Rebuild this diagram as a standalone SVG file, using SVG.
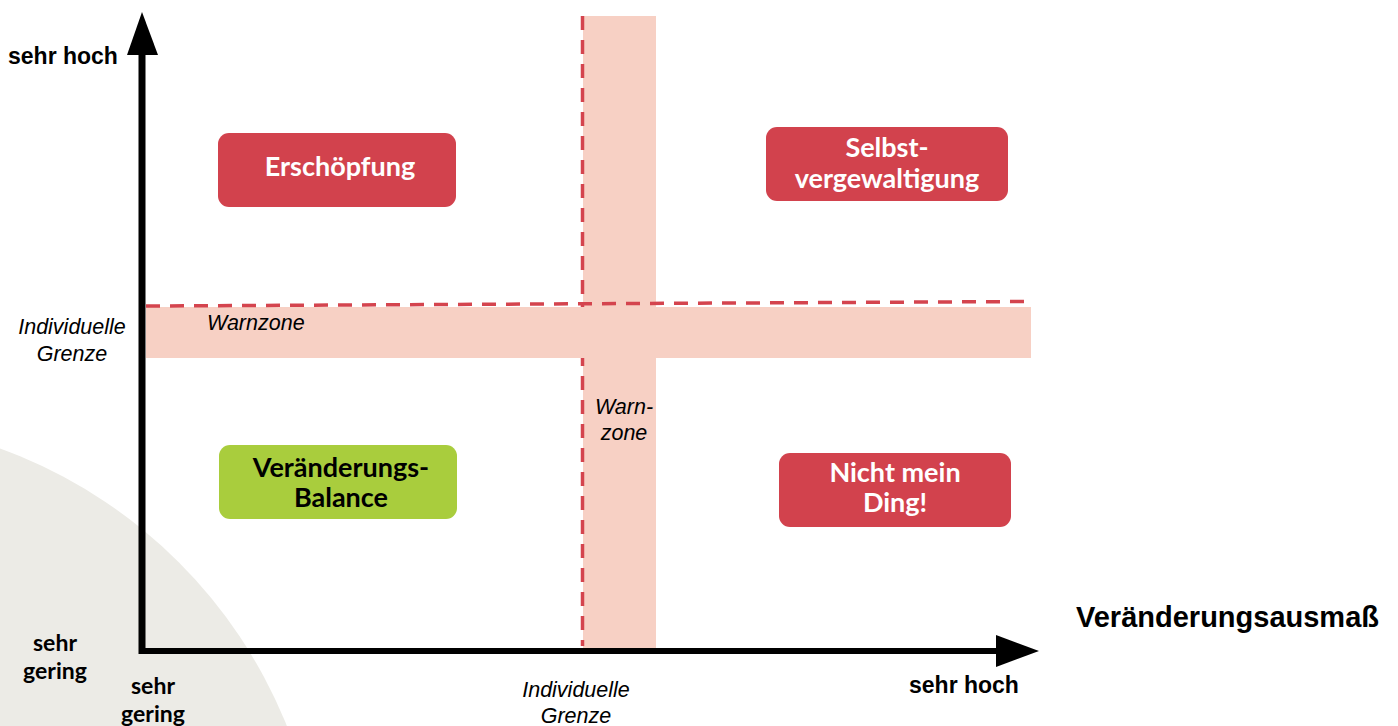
<svg xmlns="http://www.w3.org/2000/svg" width="1398" height="726" viewBox="0 0 1398 726">
<style>
.lbl{font-family:"Liberation Sans",Arial,sans-serif;font-weight:bold;fill:#000}
.it{font-family:"Liberation Sans",Arial,sans-serif;font-style:italic;font-size:21.5px;fill:#000}
.node{font-family:Lato,"Noto Sans",sans-serif;font-weight:bold;font-size:27px;text-anchor:middle}
.band{fill:#F7D0C4}
.dash{stroke:#D4444E;stroke-width:3.5;fill:none;stroke-dasharray:14 10}
.red{fill:#D2424D}
.green{fill:#A9CD3D}
.gl{font-family:Lato,"Noto Sans",sans-serif;font-weight:bold;font-size:23px;text-anchor:middle;fill:#000}
</style>
<rect width="1398" height="726" fill="#fff"/>
<circle cx="-167" cy="908" r="489" fill="#ECEBE6"/>

<g id="zones">
<rect class="band" x="583" y="16" width="73" height="632"/>
<line class="dash" x1="582.5" y1="16" x2="582.5" y2="646"/>
<rect class="band" x="146" y="307" width="885" height="51"/>
<line class="dash" x1="146" y1="306" x2="1031" y2="301.5"/>
<text class="it" x="207" y="330">Warnzone</text>
<text class="it" x="624" y="414" text-anchor="middle">Warn-</text>
<text class="it" x="624" y="440" text-anchor="middle">zone</text>
</g>

<g id="axes">
<line x1="142" y1="50" x2="142" y2="654" stroke="#000" stroke-width="7"/>
<polygon points="142,12 158,55 127,55" fill="#000"/>
<line x1="139" y1="651" x2="1000" y2="651" stroke="#000" stroke-width="6"/>
<polygon points="1039,651 996,635 996,667" fill="#000"/>
</g>

<g id="axis-labels">
<text class="lbl" x="8" y="64" font-size="23">sehr hoch</text>
<text class="lbl" x="909" y="693" font-size="23">sehr hoch</text>
<text class="lbl" x="1076" y="627" font-size="29">Veränderungsausmaß</text>
<text class="it" x="72" y="334" text-anchor="middle">Individuelle</text>
<text class="it" x="72" y="361" text-anchor="middle">Grenze</text>
<text class="it" x="576" y="697" text-anchor="middle">Individuelle</text>
<text class="it" x="576" y="723" text-anchor="middle">Grenze</text>
<text class="gl" x="55" y="651">sehr</text>
<text class="gl" x="55" y="679">gering</text>
<text class="gl" x="153" y="694">sehr</text>
<text class="gl" x="153" y="722">gering</text>
</g>

<g id="node-erschoepfung">
<rect class="red" x="218" y="133" width="238" height="74" rx="11"/>
<text class="node" x="340" y="176" fill="#fff">Erschöpfung</text>
</g>
<g id="node-selbst">
<rect class="red" x="766" y="127" width="242" height="74" rx="11"/>
<text class="node" x="887" y="157" fill="#fff">Selbst-</text>
<text class="node" x="887" y="188" fill="#fff">vergewaltigung</text>
</g>
<g id="node-balance">
<rect class="green" x="219" y="445" width="238" height="74" rx="11"/>
<text class="node" x="341" y="477" fill="#000">Veränderungs-</text>
<text class="node" x="341" y="507" fill="#000">Balance</text>
</g>
<g id="node-nicht">
<rect class="red" x="779" y="453" width="232" height="74" rx="11"/>
<text class="node" x="895" y="482" fill="#fff">Nicht mein</text>
<text class="node" x="895" y="512" fill="#fff">Ding!</text>
</g>
</svg>
